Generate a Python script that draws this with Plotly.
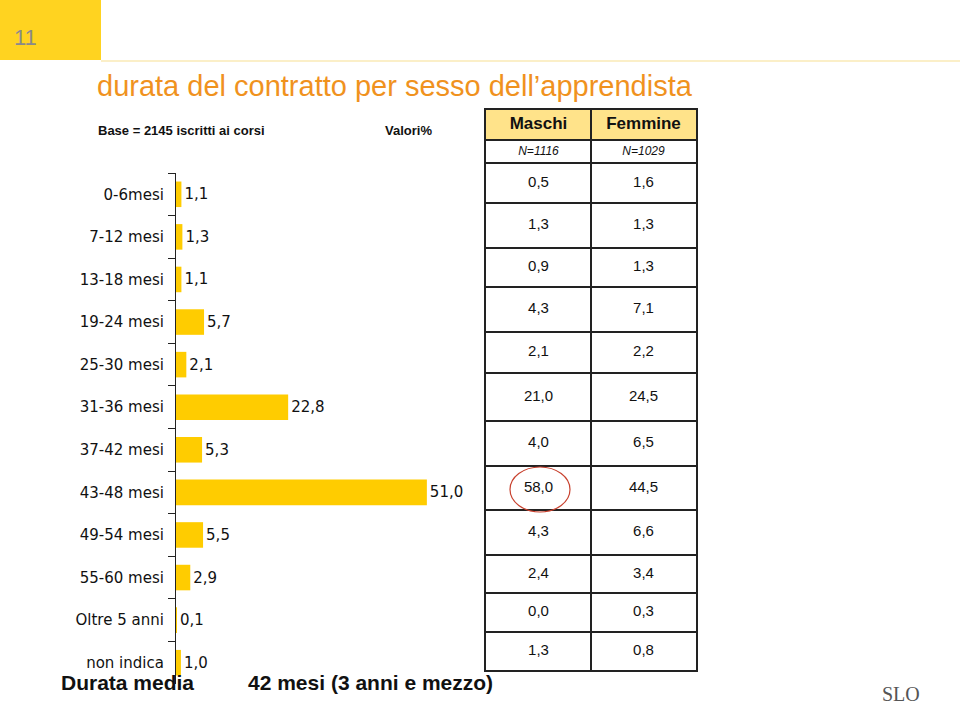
import plotly.graph_objects as go

categories = ["0-6mesi", "7-12 mesi", "13-18 mesi", "19-24 mesi", "25-30 mesi", "31-36 mesi",
              "37-42 mesi", "43-48 mesi", "49-54 mesi", "55-60 mesi", "Oltre 5 anni", "non indica"]
totale = [1.1, 1.3, 1.1, 5.7, 2.1, 22.8, 5.3, 51.0, 5.5, 2.9, 0.1, 1.0]
maschi = [0.5, 1.3, 0.9, 4.3, 2.1, 21.0, 4.0, 58.0, 4.3, 2.4, 0.0, 1.3]
femmine = [1.6, 1.3, 1.3, 7.1, 2.2, 24.5, 6.5, 44.5, 6.6, 3.4, 0.3, 0.8]
col_headers = ["Maschi", "Femmine"]
col_n = ["N=1116", "N=1029"]

W, H = 960, 712
YELLOW = "#FFCC00"
INK = "#111"

# geometria tabella (altezze righe in pixel, come nella slide)
TAB_TOP = 110
row_heights = [30, 23, 40, 45, 39, 45, 41, 48, 45, 44, 45, 38, 39, 38]
bounds = [TAB_TOP]
for h in row_heights:
    bounds.append(bounds[-1] + h)
TAB_BOTTOM = bounds[-1]
row_mid = [(a + b) / 2 for a, b in zip(bounds[:-1], bounds[1:])]


def px(x):
    return x / W


def py(y):
    return 1 - y / H


def it(v):
    return f"{v:.1f}".replace(".", ",")


fig = go.Figure()

fig.add_trace(go.Bar(
    x=totale, y=categories, orientation="h",
    marker=dict(color=YELLOW, line=dict(width=0)),
    width=0.6,
    text=[it(v) for v in totale], textposition="outside",
    textfont=dict(family="DejaVu Sans", size=15, color=INK),
    cliponaxis=False, hoverinfo="skip",
))


# tabella Maschi / Femmine
def table_text(xs, ys, texts, size):
    fig.add_trace(go.Scatter(
        x=xs, y=ys, text=texts, mode="text", textposition="middle center",
        textfont=dict(family="Liberation Sans", size=size, color=INK),
        xaxis="x2", yaxis="y2", cliponaxis=False, hoverinfo="skip",
    ))


table_text([0.5, 1.5], [row_mid[0]] * 2, [f"<b>{c}</b>" for c in col_headers], 17)
table_text([0.5, 1.5], [row_mid[1]] * 2, [f"<i>{n}</i>" for n in col_n], 12)
for j, col in enumerate([maschi, femmine]):
    table_text([j + 0.5] * len(col), row_mid[2:], [it(v) for v in col], 15)

shapes = [
    dict(type="rect", xref="paper", yref="paper", x0=0, x1=px(101), y0=py(60), y1=1,
         fillcolor="#FFD320", line=dict(width=0), layer="below"),
    dict(type="line", xref="paper", yref="paper", x0=px(101), x1=1, y0=py(61), y1=py(61),
         line=dict(color="#FBEFC8", width=2)),
    dict(type="rect", xref="x2", yref="y2", x0=0, x1=2, y0=bounds[0], y1=bounds[1],
         fillcolor="#FFE38A", line=dict(width=0), layer="below"),
    dict(type="circle", xref="paper", yref="paper", x0=px(510), x1=px(570), y0=py(512), y1=py(467),
         line=dict(color="#C8412E", width=1.2)),
]

annotations = [
    dict(text="11", x=px(12), y=py(37), xanchor="left", font=dict(size=22, color="#8A8A8A")),
    dict(text="durata del contratto per sesso dell’apprendista", x=px(95), y=py(86), xanchor="left",
         font=dict(size=29, color="#F0921E")),
    dict(text="<b>Base = 2145 iscritti ai corsi</b>", x=px(96), y=py(130), xanchor="left",
         font=dict(size=13, color=INK)),
    dict(text="<b>Valori%</b>", x=px(383), y=py(130), xanchor="left",
         font=dict(size=13, color=INK)),
    dict(text="<b>Durata media</b>", x=px(59), y=py(682), xanchor="left",
         font=dict(size=21, color=INK)),
    dict(text="<b>42 mesi (3 anni e mezzo)</b>", x=px(246), y=py(682), xanchor="left",
         font=dict(size=21, color=INK)),
    dict(text="SLO", x=px(880), y=py(694), xanchor="left",
         font=dict(family="Liberation Serif", size=20, color="#555")),
]
for a in annotations:
    a.update(xref="paper", yref="paper", yanchor="middle", showarrow=False)
    a["font"].setdefault("family", "Liberation Sans")

grid = dict(showgrid=True, gridcolor="#222", gridwidth=1.5, showline=True, mirror=True,
            linecolor="#222", linewidth=1.5, showticklabels=False, ticks="", zeroline=False,
            fixedrange=True)

fig.update_layout(
    width=W, height=H,
    margin=dict(l=0, r=0, t=0, b=0),
    paper_bgcolor="white", plot_bgcolor="white",
    showlegend=False,
    shapes=shapes, annotations=annotations,
    xaxis=dict(domain=[px(176), px(480)], range=[0, 61.8], visible=False, fixedrange=True),
    yaxis=dict(
        domain=[py(684), py(173)], autorange="reversed",
        showline=True, linecolor="#222", linewidth=1.2,
        ticks="outside", tickson="boundaries", ticklen=7, tickwidth=1.2, tickcolor="#222",
        ticklabelstandoff=8,
        tickfont=dict(family="DejaVu Sans", size=15, color=INK),
        showgrid=False, zeroline=False, fixedrange=True,
    ),
    xaxis2=dict(domain=[px(486), px(696)], range=[0, 2], tickvals=[0, 1, 2], anchor="y2", **grid),
    yaxis2=dict(domain=[py(TAB_BOTTOM), py(TAB_TOP)], range=[TAB_BOTTOM, TAB_TOP],
                tickvals=bounds, anchor="x2", **grid),
)

fig.write_html("out.html", config={"displayModeBar": False},
               post_script="document.body.style.margin='0';")
